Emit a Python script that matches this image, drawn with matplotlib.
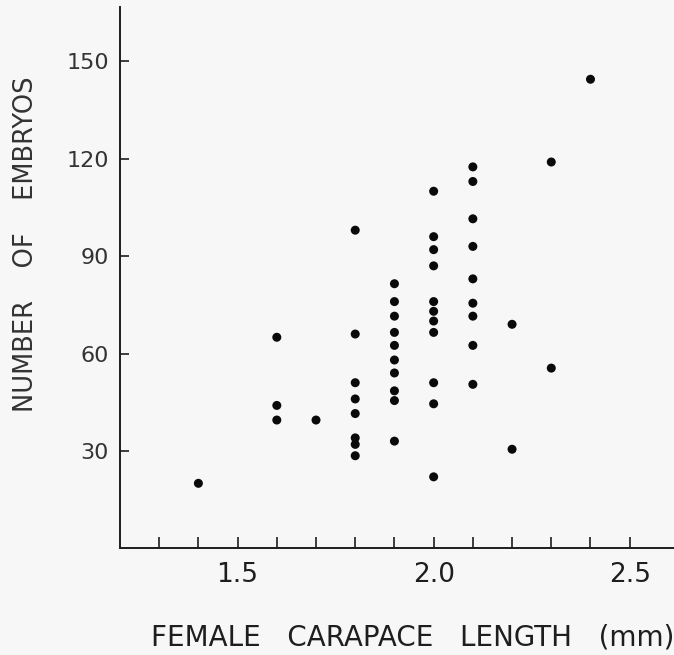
import matplotlib
matplotlib.use("Agg")
import matplotlib.pyplot as plt
import numpy as np

# carapace length (mm) groups and embryo counts
lengths = [1.4, 1.6, 1.7, 1.8, 1.9, 2.0, 2.1, 2.2, 2.3, 2.4]
embryos = [
    [20],
    [65, 44, 39.5],
    [39.5],
    [98, 66, 51, 46, 41.5, 34, 32, 28.5],
    [81.5, 76, 71.5, 66.5, 62.5, 58, 54, 48.5, 45.5, 33],
    [110, 96, 92, 87, 76, 73, 70, 66.5, 51, 44.5, 22],
    [117.5, 113, 101.5, 93, 83, 75.5, 71.5, 62.5, 50.5],
    [69, 30.5],
    [119, 55.5],
    [144.5],
]

x_major = [1.5, 2.0, 2.5]
x_minor = [1.3, 1.4, 1.6, 1.7, 1.8, 1.9, 2.1, 2.2, 2.3, 2.4]
y_ticks = [30, 60, 90, 120, 150]

xs = []
ys = []
for length, counts in zip(lengths, embryos):
    for c in counts:
        xs.append(length)
        ys.append(c)

bg = '#f7f7f7'
ink = '#1e1e1e'

plt.rcParams['font.family'] = ['DejaVu Sans']

fig = plt.figure(figsize=(6.74, 6.55), dpi=100, facecolor=bg)
ax = fig.add_axes([0.178, 0.163, 0.822, 0.826], facecolor=bg)

ax.scatter(xs, ys, s=42, color='#0a0a0a', edgecolors='none', zorder=3)

ax.set_xlim(1.2, 2.613)
ax.set_ylim(0, 166.7)

ax.spines['top'].set_visible(False)
ax.spines['right'].set_visible(False)
for side in ('left', 'bottom'):
    ax.spines[side].set_linewidth(1.4)
    ax.spines[side].set_color(ink)

ax.set_xticks(x_major)
ax.set_xticklabels(['1.5', '2.0', '2.5'])
ax.set_xticks(x_minor, minor=True)
ax.tick_params(axis='x', which='both', direction='in', length=8, width=1.2,
               color=ink, pad=10, labelsize=19, labelcolor=ink)

ax.set_yticks(y_ticks)
ax.set_yticklabels([str(v) for v in y_ticks])
ax.tick_params(axis='y', direction='in', length=6.5, width=1.2,
               color=ink, pad=8, labelsize=16, labelcolor='#333333')

fig.text(413 / 674, 0.026, 'FEMALE   CARAPACE   LENGTH   (mm)',
         ha='center', va='center', fontsize=20, color=ink)
fig.text(26 / 674, 0.627, 'NUMBER    OF    EMBRYOS', rotation=90,
         ha='center', va='center', fontsize=18.5, color='#333333')

fig.savefig('out.png', dpi=100, facecolor=bg)
